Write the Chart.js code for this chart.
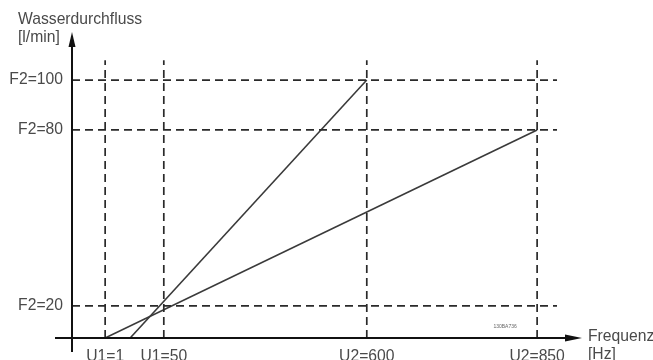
<!DOCTYPE html>
<html>
<head>
<meta charset="utf-8">
<script src="https://cdn.jsdelivr.net/npm/chart.js@4/dist/chart.umd.min.js"></script>
<style>
  html, body { margin: 0; padding: 0; background: #fff; }
  #wrap { width: 653px; height: 360px; position: relative; }
</style>
</head>
<body>
<div id="wrap"><canvas id="c" width="653" height="360"></canvas></div>
<script>
// Schematic diagram: axis positions in diagram units (0..100 along each axis)
const xTickLabels = ['U1=1', 'U1=50', 'U2=600', 'U2=850'];
const xTickPos = [6.5, 18.0, 57.8, 91.2];
const yTickLabels = ['F2=20', 'F2=80', 'F2=100'];
const yTickPos = [10.5, 68.0, 84.3];

// Characteristic lines
const steepX = [11.4, 57.8];
const steepY = [0, 84.3];
const flatX = [6.5, 91.2];
const flatY = [0, 68.0];

// Extent of the dashed guide lines
const guideTop = 90.8;
const guideRight = 95.1;

const yTitle = ['Wasserdurchfluss', '[l/min]'];
const xTitle = ['Frequenz', '[Hz]'];
const stamp = '130BA736';

const FONT = "'Liberation Sans', Arial, sans-serif";
const FS = 15.7;
const TXT = '#4a4a4a';

function pts(xs, ys) { return xs.map((x, i) => ({ x: x, y: ys[i] })); }

const datasets = [];
xTickPos.forEach(p => datasets.push({
  data: [{ x: p, y: 0 }, { x: p, y: guideTop }],
  borderColor: '#2a2a2a', borderWidth: 1.7, borderDash: [8, 5], pointRadius: 0, showLine: true
}));
yTickPos.forEach(p => datasets.push({
  data: [{ x: 0, y: p }, { x: guideRight, y: p }],
  borderColor: '#2a2a2a', borderWidth: 1.7, borderDash: [8, 5], pointRadius: 0, showLine: true
}));
datasets.push({ data: pts(steepX, steepY), borderColor: '#3a3a3a', borderWidth: 1.6, pointRadius: 0, showLine: true });
datasets.push({ data: pts(flatX, flatY), borderColor: '#3a3a3a', borderWidth: 1.6, pointRadius: 0, showLine: true });

const axesPlugin = {
  id: 'axesArrows',
  afterDatasetsDraw(chart) {
    const ctx = chart.ctx;
    const xs = chart.scales.x, ys = chart.scales.y;
    const x0 = xs.getPixelForValue(0), y0 = ys.getPixelForValue(0);
    const xEnd = xs.getPixelForValue(100), yEnd = ys.getPixelForValue(100);
    ctx.save();
    ctx.strokeStyle = '#111';
    ctx.fillStyle = '#111';
    ctx.lineWidth = 2;
    // y axis
    ctx.beginPath();
    ctx.moveTo(x0, y0 + 14);
    ctx.lineTo(x0, yEnd + 10);
    ctx.stroke();
    ctx.beginPath();
    ctx.moveTo(x0, yEnd);
    ctx.lineTo(x0 - 3.5, yEnd + 15);
    ctx.lineTo(x0 + 3.5, yEnd + 15);
    ctx.closePath();
    ctx.fill();
    // x axis
    ctx.beginPath();
    ctx.moveTo(x0 - 17, y0);
    ctx.lineTo(xEnd - 10, y0);
    ctx.stroke();
    ctx.beginPath();
    ctx.moveTo(xEnd, y0);
    ctx.lineTo(xEnd - 17, y0 - 3.5);
    ctx.lineTo(xEnd - 17, y0 + 3.5);
    ctx.closePath();
    ctx.fill();

    // titles
    ctx.fillStyle = TXT;
    ctx.font = FS + 'px ' + FONT;
    ctx.textBaseline = 'middle';
    ctx.textAlign = 'left';
    ctx.fillText(yTitle[0], 18, 20);
    ctx.fillText(yTitle[1], 18, 38);
    ctx.fillText(xTitle[0], xEnd + 6, y0 - 1);
    ctx.fillText(xTitle[1], xEnd + 6, y0 + 17);
    // stamp
    ctx.font = '5px ' + FONT;
    ctx.fillStyle = '#666';
    ctx.textAlign = 'center';
    ctx.fillText(stamp, xs.getPixelForValue(xTickPos[3]) - 32, y0 - 11);
    ctx.restore();
  }
};

new Chart(document.getElementById('c'), {
  type: 'scatter',
  data: { datasets: datasets },
  options: {
    responsive: false,
    animation: false,
    events: [],
    layout: { padding: { top: 32, right: 71, left: 0, bottom: 0 } },
    plugins: { legend: { display: false }, tooltip: { enabled: false } },
    scales: {
      x: {
        type: 'linear', min: 0, max: 100,
        grid: { display: false, drawTicks: false },
        border: { display: false },
        afterFit(s) { s.height = 22; },
        afterBuildTicks(s) { s.ticks = xTickPos.map(v => ({ value: v })); },
        ticks: {
          autoSkip: false, maxRotation: 0, padding: 9,
          color: TXT, font: { size: FS, family: FONT },
          callback: (v, i) => xTickLabels[i]
        }
      },
      y: {
        type: 'linear', min: 0, max: 100,
        grid: { display: false, drawTicks: false },
        border: { display: false },
        afterFit(s) { s.width = 72; },
        afterBuildTicks(s) { s.ticks = yTickPos.map(v => ({ value: v })); },
        ticks: {
          autoSkip: false, padding: 9,
          color: TXT, font: { size: FS, family: FONT },
          callback: (v, i) => yTickLabels[i]
        }
      }
    }
  },
  plugins: [axesPlugin]
});
</script>
</body>
</html>
